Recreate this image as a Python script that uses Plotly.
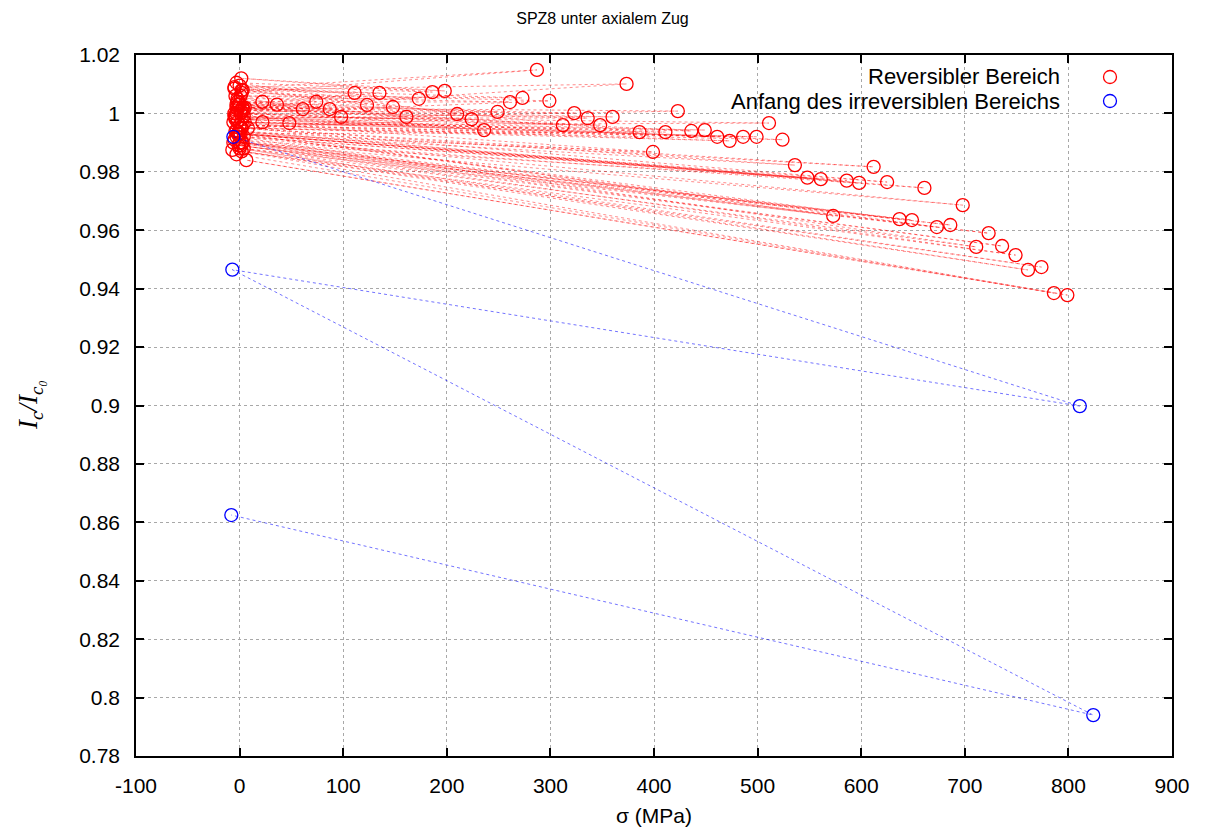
import plotly.graph_objects as go

# ---- data ----
# near-zero (unloaded) measurements, in chronological order
zero_sigma = [2, -3, 4, -2, 1, -4, 3, 0, -5, 2,
              -1, -5, 5, -2, 0, 1.6, -3, 8, -4, 3,
              -2, 1, -5, 2, -3, 0, 4, -4, 1, -2,
              3, -6, -1, 2, -3, 5, -4, 0, 1, -2,
              3, -5, 2, -1, 4, -3, 0, 1, -4, 2,
              -2, 3, -5, 0, -1, 2, -3, 4, -6, 1,
              -7, 0, 2, 6.5, -3]
zero_ratio = [1.0005, 1.003, 0.999, 1.004, 1.001, 1.006, 1.002, 1.0035, 1.0, 1.008,
              1.003, 1.009, 1.002, 1.005, 1.0095, 1.012, 1.0105, 0.995, 0.999, 1.002,
              1.004, 1.006, 1.0085, 1.007, 1.0, 1.003, 1.001, 0.9985, 1.0, 1.0015,
              1.008, 0.997, 0.993, 0.998, 1.002, 0.997, 0.998, 0.996, 0.995, 0.997,
              0.996, 0.999, 0.995, 0.993, 0.992, 0.994, 0.99, 0.993, 0.994, 0.995,
              0.993, 0.99, 0.991, 0.993, 0.989, 0.99, 0.992, 0.988, 0.99, 0.989,
              0.9875, 0.988, 0.987, 0.984, 0.986]
# loaded measurements
load_sigma = [22, 22, 36, 48, 61, 74, 87, 98, 111, 123,
              135, 148, 161, 173, 186, 198, 210, 224, 236, 249,
              261, 273, 287, 299, 312, 323, 336, 348, 360, 373.5,
              386, 399, 411, 423, 436, 449, 461, 473, 486, 499,
              511, 524, 536, 548, 561, 573, 586, 598, 612, 625,
              637, 649, 661, 673, 686, 698, 711, 723, 736, 749,
              761, 774, 786, 799]
load_ratio = [1.004, 0.997, 1.003, 0.9967, 1.0015, 1.004, 1.0015, 0.9988, 1.007, 1.0029,
              1.007, 1.0022, 0.9988, 1.005, 1.0073, 1.0077, 0.9998, 0.998, 0.9943, 1.0005,
              1.0039, 1.0053, 1.0149, 1.0043, 0.996, 1.0001, 0.9984, 0.996, 0.9988, 1.0101,
              0.9936, 0.9868, 0.9936, 1.0008, 0.994, 0.9943, 0.992, 0.9906, 0.992, 0.992,
              0.9967, 0.991, 0.9823, 0.978, 0.9775, 0.9649, 0.977, 0.9762, 0.9817, 0.9765,
              0.9638, 0.9635, 0.9745, 0.9611, 0.9618, 0.9686, 0.9543, 0.959, 0.9546, 0.9515,
              0.9464, 0.9474, 0.9385, 0.9378]
# start of irreversible region
irr_sigma = [-6, 811, -7, 824, -8]
irr_ratio = [0.992, 0.8998, 0.9465, 0.794, 0.8625]

x_ticks = [-100, 0, 100, 200, 300, 400, 500, 600, 700, 800, 900]
x_ticktext = ["-100", "0", "100", "200", "300", "400", "500", "600", "700", "800", "900"]
y_ticks = [0.78, 0.80, 0.82, 0.84, 0.86, 0.88, 0.90, 0.92, 0.94, 0.96, 0.98, 1.00, 1.02]
y_ticktext = ["0.78", "0.8", "0.82", "0.84", "0.86", "0.88", "0.9", "0.92", "0.94", "0.96", "0.98", "1", "1.02"]

legend_names = ["Reversibler Bereich", "Anfang des irreversiblen Bereichs"]
legend_colors = ["rgb(255,0,0)", "rgb(0,0,255)"]

# ---- build chronological sequence (unload, load, unload, ...) ----
rev_x, rev_y = [], []
for i in range(len(load_sigma)):
    rev_x += [zero_sigma[i], load_sigma[i]]
    rev_y += [zero_ratio[i], load_ratio[i]]
rev_x.append(zero_sigma[len(load_sigma)])
rev_y.append(zero_ratio[len(load_sigma)])

fig = go.Figure()
fig.add_trace(go.Scatter(
    x=rev_x, y=rev_y, mode="lines+markers", name=legend_names[0],
    line=dict(color="rgba(255,0,0,0.45)", width=1, dash="3px,3px"),
    marker=dict(symbol="circle-open", size=13, color="rgb(255,0,0)", line=dict(width=1.3)),
    showlegend=False,
))
fig.add_trace(go.Scatter(
    x=irr_sigma, y=irr_ratio, mode="lines+markers", name=legend_names[1],
    line=dict(color="rgba(0,0,255,0.55)", width=1, dash="3px,3px"),
    marker=dict(symbol="circle-open", size=13, color="rgb(0,0,255)", line=dict(width=1.3)),
    showlegend=False,
))

axis_common = dict(
    showline=True, linecolor="black", linewidth=1.5, mirror="allticks",
    ticks="inside", ticklen=8, tickwidth=1.5, tickcolor="black",
    showgrid=True, gridcolor="#a8a8a8", gridwidth=1, griddash="dot",
    zeroline=False,
    tickfont=dict(family="Liberation Sans, Arial, sans-serif", size=21, color="black"),
)

fig.update_layout(
    width=1205, height=828,
    margin=dict(l=136, r=33, t=55, b=72),
    paper_bgcolor="white", plot_bgcolor="white",
    title=dict(text="SPZ8 unter axialem Zug", x=0.5, xanchor="center", y=1 - 18 / 828, yanchor="middle",
               font=dict(family="Liberation Sans, Arial, sans-serif", size=16, color="black")),
    xaxis=dict(range=[-100, 900], tickvals=x_ticks, ticktext=x_ticktext, ticklabelstandoff=10, **axis_common),
    yaxis=dict(range=[0.78, 1.02], tickvals=y_ticks, ticktext=y_ticktext, ticklabelstandoff=10, **axis_common),
    showlegend=False,
)

# axis titles
fig.add_annotation(text="σ (MPa)", xref="paper", yref="paper", x=0.5, y=(756 - 815) / 701,
                   xanchor="center", yanchor="middle", showarrow=False,
                   font=dict(family="Liberation Sans, Arial, sans-serif", size=21, color="black"))
fig.add_annotation(text="<i>I<sub>c</sub>/I<sub>c₀</sub></i>", xref="paper", yref="paper",
                   x=(30 - 136) / 1036, y=(756 - 405) / 701, textangle=-90,
                   xanchor="center", yanchor="middle", showarrow=False,
                   font=dict(family="Liberation Serif, Times New Roman, serif", size=27, color="black"))

# legend (text on the left, symbol on the right, gnuplot style)
leg_rows_py = [77, 101]
for name, col, py in zip(legend_names, legend_colors, leg_rows_py):
    yp = (756 - py) / 701
    fig.add_annotation(text=name, xref="paper", yref="paper", x=(1062 - 136) / 1036, y=yp,
                       xanchor="right", yanchor="middle", showarrow=False,
                       font=dict(family="Liberation Sans, Arial, sans-serif", size=22, color="black"))
    fig.add_shape(type="circle", xref="paper", yref="paper", xsizemode="pixel", ysizemode="pixel",
                  xanchor=(1110 - 136) / 1036, yanchor=yp, x0=-6.5, x1=6.5, y0=-6.5, y1=6.5,
                  line=dict(color=col, width=1.3))

fig.write_html("out.html")
